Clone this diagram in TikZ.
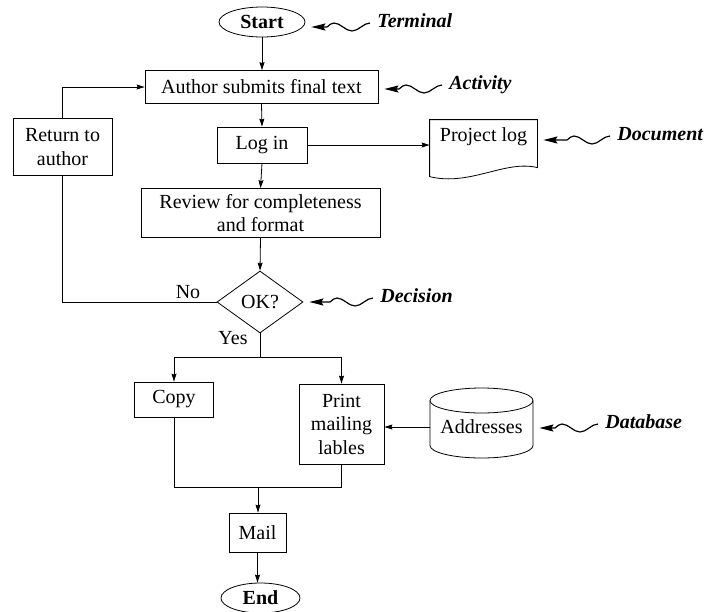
\documentclass[tikz,border=0pt]{standalone}
\usepackage{fontspec}
\setmainfont{Liberation Serif}
\usetikzlibrary{shapes.geometric,arrows.meta}

\begin{document}
\begin{tikzpicture}[x=1pt,y=-1pt,
    font=\fontsize{20}{23.5}\selectfont, line width=0.8pt,
    procbox/.style={draw, rectangle, align=center, inner sep=0pt},
    termnode/.style={draw, ellipse, inner sep=0pt, font=\fontsize{20}{23.5}\selectfont\bfseries},
    flow/.style={-{Stealth[length=8pt,width=5pt,inset=1pt]}},
    noteline/.style={-{Stealth[length=14pt,width=7pt,inset=2pt]}, line width=1.2pt, shorten >=6pt},
    lbl/.style={anchor=base west, inner sep=0pt, font=\fontsize{20}{23.5}\selectfont\bfseries\itshape}]

    \useasboundingbox (0,0) rectangle (704,611);

    % main flow
    \node[termnode, minimum width=86, minimum height=30] (start) at (262,22) {Start};
    \node[procbox, minimum width=233, minimum height=33] (author) at (261.5,87) {Author submits final text};
    \node[procbox, minimum width=99, minimum height=57] (ret) at (62.5,147) {Return to\\author};
    \node[procbox, minimum width=90, minimum height=36] (login) at (262,145) {Log in};
    \node[procbox, minimum width=239, minimum height=49] (review) at (260.5,213) {Review for completeness\\and format};
    \node[draw, diamond, aspect=1.4, inner sep=0pt, minimum width=86, minimum height=62] (ok) at (260,302) {OK?};
    \node (no) at (188,292) {No};
    \node (yes) at (233,338) {Yes};
    \node[procbox, minimum width=79, minimum height=35] (copy) at (174,399.5) {Copy};
    \node[procbox, minimum width=85, minimum height=80] (print) at (341.5,424) {Print\\mailing\\lables};
    \node[procbox, minimum width=57, minimum height=39] (mail) at (257.5,532.5) {Mail};
    \node[termnode, minimum width=79, minimum height=30] (endn) at (260.5,598) {End};

    % document
    \node[inner sep=0pt, minimum width=107, minimum height=34] (plog) at (483.5,137) {Project log};
    \draw (plog.north west) -- (plog.north east) -- ++(0,48)
        .. controls +(-32,-8) and +(40,10) .. ([yshift=-57pt]plog.north west) -- cycle;

    % database
    \node[inner sep=0pt, minimum width=103, minimum height=62] (addr) at (481.5,427) {Addresses};
    \draw (430,400.5) -- (430,445.5) arc[start angle=180, end angle=360, x radius=51.5pt, y radius=12.5pt] -- (533,400.5);
    \draw (481.5,400.5) ellipse [x radius=51.5pt, y radius=12.5pt];

    \coordinate (split) at (260,357);
    \coordinate (join) at (258,487);

    \draw[flow] (start.south) -- (start.south |- author.north);
    \draw[flow] (author.south) -- (login.north);
    \draw[flow] (ret.north) |- (author.west);
    \draw[flow] (login.east) -- (login.east -| plog.west);
    \draw[flow] (login.south) -- (review.north);
    \draw[flow] (review.south) -- (ok.north);
    \draw (ok.west) -| (ret.south);
    \draw (ok.south) -- (split);
    \draw[flow] (split) -| (copy.north);
    \draw[flow] (split) -| (print.north);
    \draw[flow] (addr.west) -- (addr.west -| print.east);
    \draw (copy.south) |- (print.south |- join) -- (print.south);
    \draw[flow] (join) -- (join |- mail.north);
    \draw[flow] (mail.south) -- (mail.south |- endn.north);

    % symbol names
    \node[lbl] (termtxt) at (377,27) {Terminal};
    \node[lbl] (acttxt) at (449,89) {Activity};
    \node[lbl] (doctxt) at (617,140) {Document};
    \node[lbl] (dectxt) at (380,302) {Decision};
    \node[lbl] (dbtxt) at (605,428) {Database};

    \foreach \txt/\shp in {termtxt/start, acttxt/author, doctxt/plog, dectxt/ok, dbtxt/addr}
        \draw[noteline] ([xshift=-7pt]\txt.base west) ++(0,-4) cos ++(-9,4) sin ++(-9,4)
            cos ++(-9,-4) sin ++(-9,-4) cos ++(-7,4) -- (\txt.base west -| \shp.east);
\end{tikzpicture}
\end{document}
